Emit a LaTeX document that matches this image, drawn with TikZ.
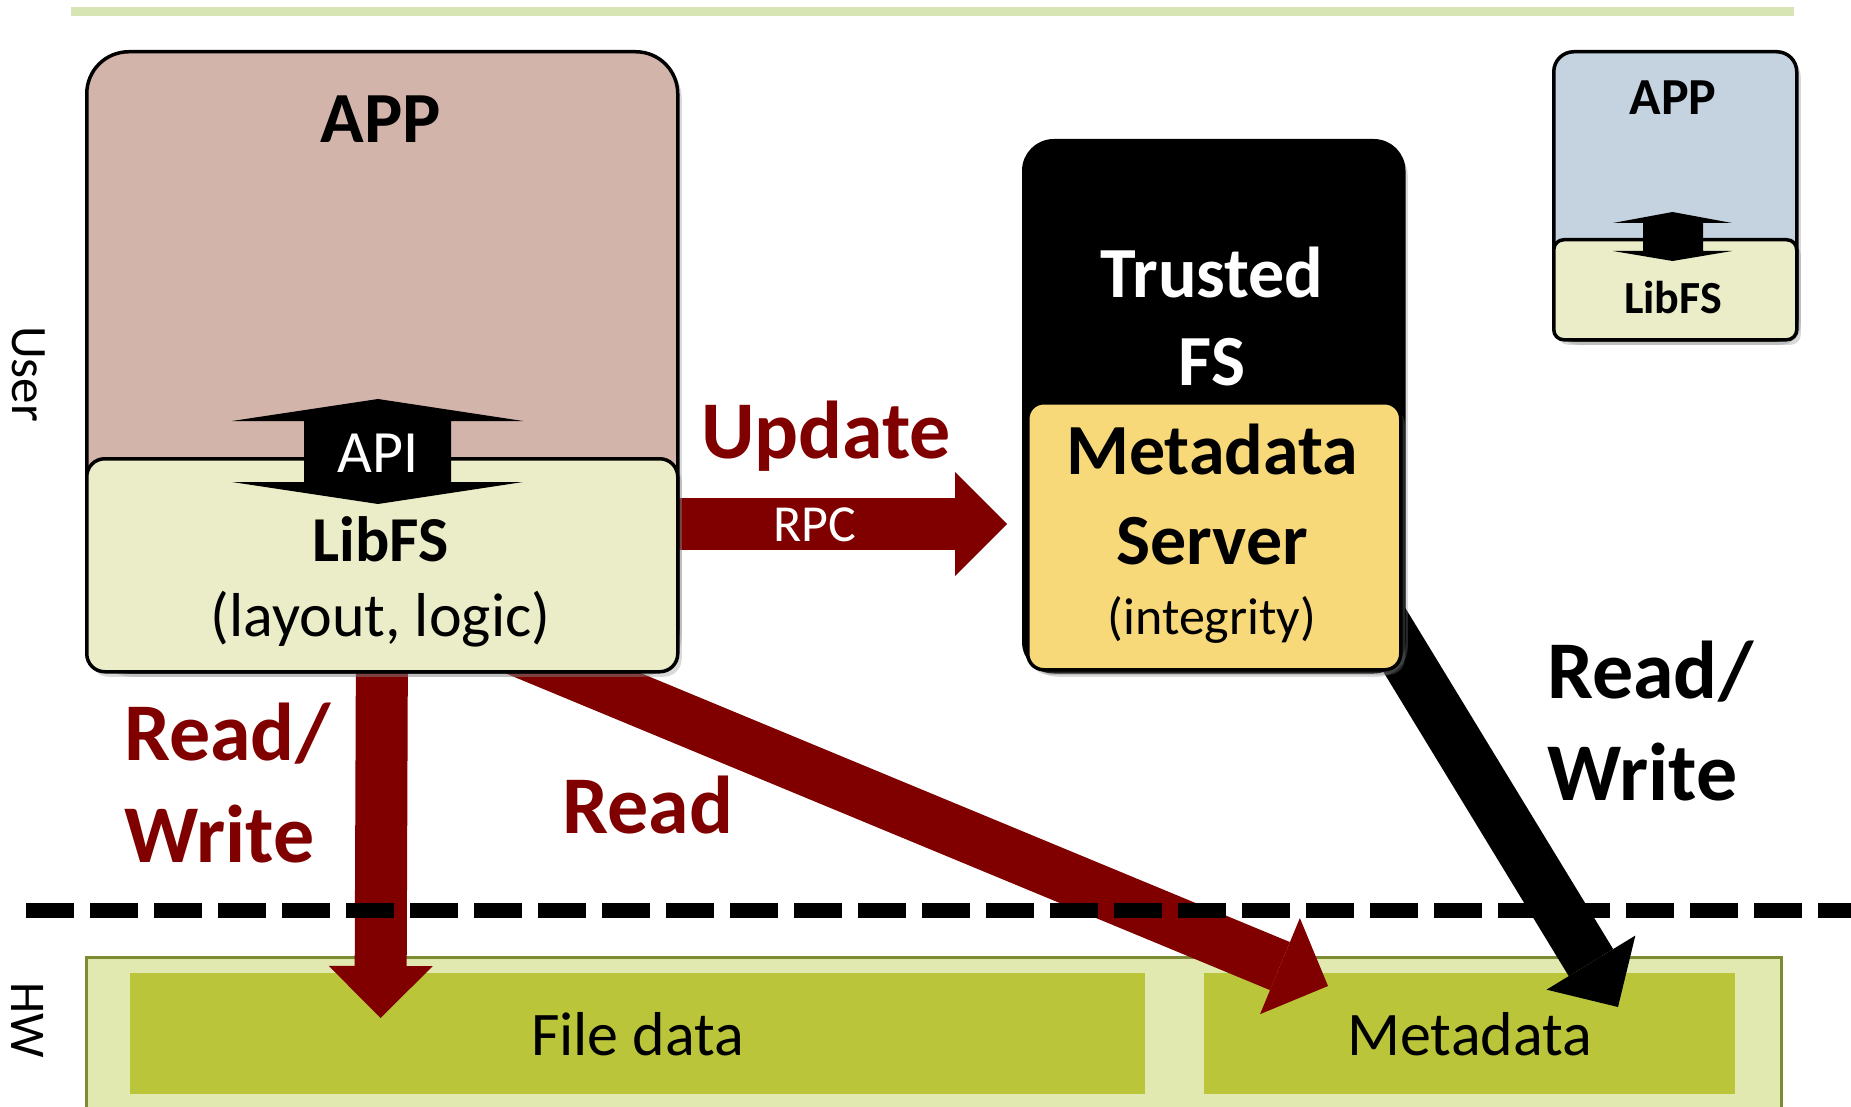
\documentclass[tikz,border=0pt]{standalone}
\usepackage{fontspec}
\setmainfont{Carlito}
\usetikzlibrary{arrows.meta,shadows}
\definecolor{appfill}{RGB}{211,180,170}
\definecolor{libfill}{RGB}{235,237,200}
\definecolor{smallapp}{RGB}{197,211,224}
\definecolor{mdfill}{RGB}{247,217,122}
\definecolor{hwlight}{RGB}{226,233,176}
\definecolor{hwdark}{RGB}{187,197,57}
\definecolor{hwborder}{RGB}{125,140,50}
\definecolor{topline}{RGB}{215,228,180}
\definecolor{maroonc}{RGB}{128,0,0}
\newcommand\myfs[2]{\fontsize{#1}{#2}\selectfont}
\pgfdeclarelayer{bg}
\pgfdeclarelayer{arr}
\pgfsetlayers{bg,arr,main}
\begin{document}
\begin{tikzpicture}[x=1pt,y=-1pt,
  box/.style={draw=black, line width=3.5pt, inner sep=0pt, anchor=north west,
    drop shadow={shadow xshift=4pt, shadow yshift=-5pt, opacity=0.3}},
  fat/.style={line width=52pt, -{Triangle[width=104pt,length=52pt,line width=0pt]}},
  t/.style={inner sep=0pt, anchor=base},
  tw/.style={inner sep=0pt, anchor=base west},
  hwbox/.style={inner sep=0pt, anchor=north west},
  dashline/.style={line width=15pt, dash pattern=on 48pt off 16pt},
]
\path[use as bounding box] (0,0) rectangle (1851,1107);

% ---------- background layer: top rule and hardware ----------
\begin{pgfonlayer}{bg}
  \draw[line width=9pt, topline] (71,12) -- (1794,12);
  \node[hwbox, draw=hwborder, line width=3pt, fill=hwlight,
        minimum width=1695pt, minimum height=156pt] (hw) at (85,956) {};
  \node[hwbox, fill=hwdark, minimum width=1015pt, minimum height=121pt,
        font=\myfs{62}{74}] (filedata) at (130,973) {File data};
  \node[hwbox, fill=hwdark, minimum width=531pt, minimum height=121pt,
        font=\myfs{62}{74}] (metadata) at (1204,973) {Metadata};
\end{pgfonlayer}

% ---------- main boxes ----------
\node[box, fill=appfill, rounded corners=42pt, minimum width=591pt, minimum height=620pt] (app) at (85,50) {};
\node[box, fill=libfill, rounded corners=18pt, minimum width=591pt, minimum height=213pt] (libfs) at (85,457) {};
\node[t, font=\myfs{72}{86}\bfseries] (apptxt) at (380.5,143) {APP};
\fill (378,399) -- (523,421) -- (451,421) -- (451,482) -- (523,482) -- (378,504)
      -- (232,482) -- (304,482) -- (304,421) -- (232,421) -- cycle;
\node[t, white, font=\myfs{60}{72}] (api) at (378,472) {API};
\node[t, font=\myfs{64}{77}\bfseries] (libtxt) at (380.5,561) {LibFS};
\node[t, font=\myfs{62}{74}] (layout) at (380.5,636) {(layout, logic)};

\node[box, fill=black, rounded corners=30pt, minimum width=380pt, minimum height=531pt] (trusted) at (1022,139) {};
\node[box, fill=mdfill, rounded corners=16pt, minimum width=373pt, minimum height=267pt] (mds) at (1026,401) {};
\node[t, white, font=\myfs{72}{86}\bfseries] (trtxt) at (1212,297) {Trusted};
\node[t, white, font=\myfs{72}{86}\bfseries] (fstxt) at (1212,385) {FS};
\node[t, font=\myfs{72}{86}\bfseries] (mdtxt) at (1212,474) {Metadata};
\node[t, font=\myfs{72}{86}\bfseries] (srvtxt) at (1212,564) {Server};
\node[t, font=\myfs{52}{62}] (integ) at (1212,634) {(integrity)};

\node[box, fill=smallapp, rounded corners=20pt, minimum width=243pt, minimum height=288pt] (sapp) at (1552,50) {};
\node[box, fill=libfill, rounded corners=10pt, minimum width=243pt, minimum height=100pt] (slib) at (1552,238) {};
\fill (1672.5,212) -- (1732,223) -- (1703,223) -- (1703,251) -- (1732,251) -- (1672.5,261)
      -- (1613,251) -- (1643,251) -- (1643,223) -- (1613,223) -- cycle;
\node[t, font=\myfs{52}{62}\bfseries] (sapptxt) at (1673,115) {APP};
\node[t, font=\myfs{46}{55}\bfseries] (slibtxt) at (1673,313) {LibFS};

% ---------- connectors ----------
\coordinate (rpctip) at (1007,524);
\coordinate (fdtip) at (380.5,1018);
\coordinate (rdtail) at (493,640);
\coordinate (rdtip) at (1328,986);
\coordinate (bktail) at (1370,600);
\coordinate (bktip) at (1618,1007);
\coordinate (dashL) at (26,910);
\coordinate (dashR) at (1851,910);
\begin{pgfonlayer}{arr}
  \draw[fat, maroonc] (libfs.center |- rpctip) -- (rpctip);
  \draw[fat, maroonc] (libfs.center) -- (fdtip);
  \draw[fat, maroonc] (rdtail) -- (rdtip);
  \draw[fat, black] (bktail) -- (bktip);
  \draw[dashline] (dashL) -- (dashR);
\end{pgfonlayer}

% ---------- labels ----------
\node[t, maroonc, font=\myfs{82}{100}\bfseries] (update) at (826,458) {Update};
\node[t, white, font=\myfs{52}{62}] (rpc) at (815,541) {RPC};
\node[tw, maroonc, font=\myfs{82}{100}\bfseries] (rwl1) at (124,760) {Read/};
\node[tw, maroonc, font=\myfs{82}{100}\bfseries] (rwl2) at (124,862) {Write};
\node[t, maroonc, font=\myfs{82}{100}\bfseries] (read) at (648,833) {Read};
\node[tw, font=\myfs{82}{100}\bfseries] (rwr1) at (1547,698) {Read/};
\node[tw, font=\myfs{82}{100}\bfseries] (rwr2) at (1547,800) {Write};
\node[rotate=-90, inner sep=0pt, font=\myfs{51}{60}] (user) at (29,374) {User};
\node[rotate=-90, inner sep=0pt, font=\myfs{50}{60}] (hwlbl) at (28,1020) {HW};
\end{tikzpicture}
\end{document}
